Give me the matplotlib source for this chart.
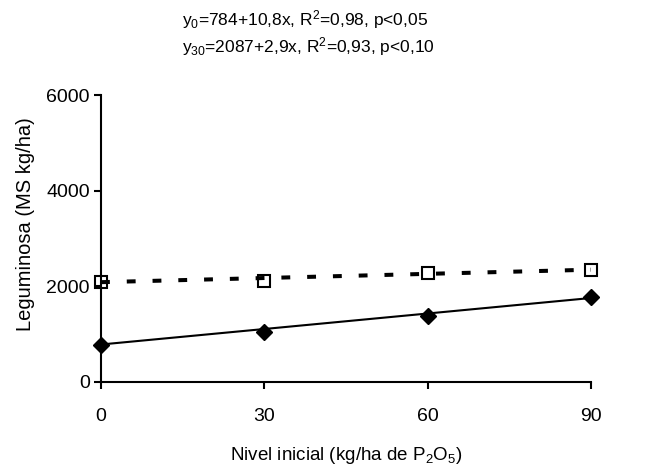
import matplotlib
matplotlib.use("Agg")
import matplotlib.pyplot as plt
import numpy as np

plt.rcParams["font.family"] = ["Liberation Sans", "DejaVu Sans"]
plt.rcParams["mathtext.fontset"] = "custom"
plt.rcParams["mathtext.rm"] = "Liberation Sans"
plt.rcParams["mathtext.it"] = "Liberation Sans"
plt.rcParams["mathtext.default"] = "regular"

NIVEL = [0, 30, 60, 90]
Y0_OBS = [780, 1050, 1370, 1770]
Y30_OBS = [2100, 2120, 2270, 2340]

# regression coefficients shown in the header
Y0_FIT = (784, 10.8)
Y30_FIT = (2087, 2.9)

EQ0 = r"y$_0$=784+10,8x, R$^2$=0,98, p<0,05"
EQ30 = r"y$_{30}$=2087+2,9x, R$^2$=0,93, p<0,10"

fig = plt.figure(figsize=(6.7, 4.74), dpi=100)
ax = fig.add_axes([101 / 670, 1 - 382 / 474, 490 / 670, 287 / 474])

xs = np.array([0, 90])
ax.plot(xs, Y0_FIT[0] + Y0_FIT[1] * xs, color="black", lw=1.5, zorder=2)
ax.plot(xs, Y30_FIT[0] + Y30_FIT[1] * xs, color="black", lw=2.9,
        dashes=(2.2, 4.2), zorder=3)

ax.plot(NIVEL, Y0_OBS, "D", color="black", markersize=8, clip_on=False, zorder=4)
ax.plot(NIVEL, Y30_OBS, "s", markerfacecolor="none", markeredgecolor="black",
        markeredgewidth=1.5, markersize=9, clip_on=False, zorder=2)

ax.set_xlim(0, 90)
ax.set_ylim(0, 6000)
ax.set_xticks(NIVEL)
ax.set_yticks([0, 2000, 4000, 6000])
ax.spines["top"].set_visible(False)
ax.spines["right"].set_visible(False)
for s in ("left", "bottom"):
    ax.spines[s].set_linewidth(1.5)
ax.tick_params(direction="out", length=5, width=1.5, labelsize=14)
ax.tick_params(axis="x", pad=14)
ax.tick_params(axis="y", pad=3)

ax.set_xlabel(r"Nivel inicial (kg/ha de P$_2$O$_5$)", fontsize=13.5, labelpad=14)
ax.set_ylabel("Leguminosa (MS kg/ha)", fontsize=14.5)
ax.yaxis.set_label_coords(-0.135, 0.55)

fig.text(182 / 670, 1 - 20 / 474, EQ0, fontsize=12.5, va="center", ha="left")
fig.text(182 / 670, 1 - 47 / 474, EQ30, fontsize=12.5, va="center", ha="left")

fig.savefig("out.png", dpi=100)
